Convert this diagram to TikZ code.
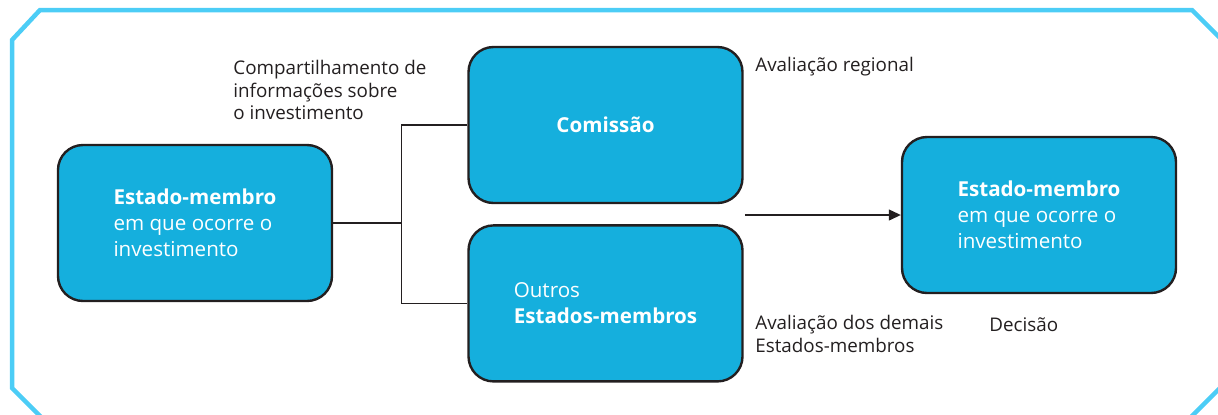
\documentclass[tikz,border=0pt]{standalone}
\usepackage{fontspec}
\setmainfont{Open Sans}
\usetikzlibrary{arrows.meta,positioning,shapes}
\definecolor{frame}{HTML}{4CCDF6}
\definecolor{boxblue}{HTML}{15AFDD}
\definecolor{ink}{HTML}{231F20}
\tikzset{
    %Define standard arrow tip
    >={Triangle[length=6pt,width=5.5pt]},
    %Define style for boxes
    body/.style={
   	rectangle,
   	rounded corners=12.5pt,
   	draw=ink, line width=1.2pt,
   	minimum width=137pt,
   	minimum height=78pt,
   	font=\fontsize{10.3}{13}\selectfont,
   	align=left,
   	text=white,
   	fill=boxblue
   },
    % Define style for the labels
    note/.style={
   	anchor=west,
   	inner sep=0pt,
   	align=left,
   	text=ink,
   	font=\fontsize{9.4}{11.25}\selectfont
   },
    % Define line style
    pil/.style={
           line width=0.6pt,
           draw=ink},
}
\begin{document}
\begin{tikzpicture}[x=0.5pt,y=-0.5pt,node distance=10pt]
		\path[use as bounding box] (0,0) rectangle (1218,414);
		%frame
		\begin{scope}
		\clip (0,0) rectangle (1218,414);
		\draw[frame, line width=2.25pt] (12,40) -- (40,10) -- (1192,10) -- (1226,44) -- (1226,382)
			-- (1188,420) -- (44,420) -- (12,388) -- cycle;
		\end{scope}
		%nodes
		\node[body](1) at (195,223){\textbf{Estado-membro}\\em que ocorre o\\investimento};
		\node[body, align=center](2) at (605.5,125){\textbf{Comissão}};
		\node[body, below=of 2](3){Outros\\\textbf{Estados-membros}};
		\node[body](4) at (1039,215){\textbf{Estado-membro}\\em que ocorre o\\investimento};
		\coordinate[right=34pt of 1.east](5);
		\coordinate[left=78pt of 4.west](6);
		%labels
		\node[note](7) at (233,90){Compartilhamento de\\informações sobre\\o investimento};
		\node[note](8) at (755,67){Avaliação regional};
		\node[note](9) at (755,334){Avaliação dos demais\\Estados-membros};
		\node[note](10) at (989,325){Decisão};
		%connectors
		\draw[pil] (1) -- (5);
		\draw[pil] (2) -| (5) |- (3);
		\draw[pil, ->] (6) -- (4);
		\end{tikzpicture}
\end{document}
